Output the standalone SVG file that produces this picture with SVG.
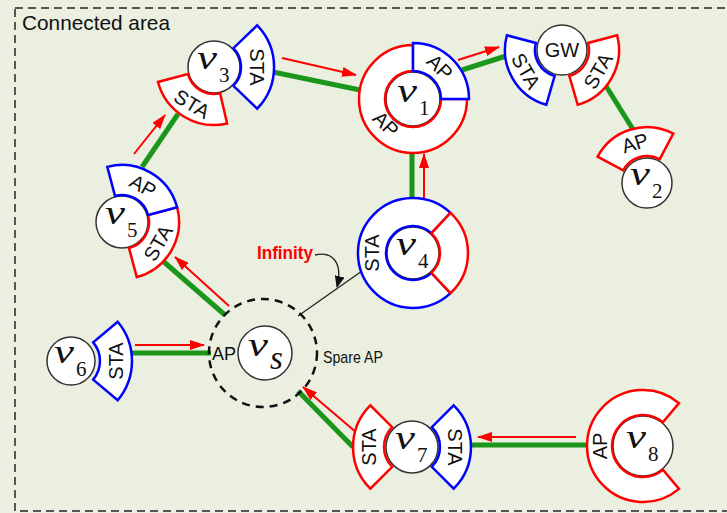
<svg xmlns="http://www.w3.org/2000/svg" width="727" height="513" viewBox="0 0 727 513">
  <style>
    .bg { fill: #EAEFE0; }
    .area { fill: none; stroke: #555; stroke-width: 2; stroke-dasharray: 8 5; }
    .node { fill: #fff; stroke: #333; stroke-width: 1.5; }
    .sr { fill: #fff; stroke: #f00; stroke-width: 2.5; stroke-linejoin: miter; }
    .sb { fill: #fff; stroke: #00f; stroke-width: 2.5; stroke-linejoin: miter; }
    .lbl { font-family: "Liberation Sans", Arial, sans-serif; font-size: 20px; fill: #111; text-anchor: middle; dominant-baseline: central; }
    .vv { font-family: "Liberation Serif", "Times New Roman", serif; font-style: italic; font-size: 33px; fill: #111; }
    .sub { font-family: "Liberation Serif", "Times New Roman", serif; font-size: 21px; fill: #111; }
    .link { stroke: #1a961a; stroke-width: 5; fill: none; }
    .flow { stroke: #f00; stroke-width: 2; fill: none; marker-end: url(#redHead); }
    .note { stroke: #222; stroke-width: 1.3; fill: none; }
  </style>
  <defs>
    <marker id="redHead" markerUnits="userSpaceOnUse" markerWidth="15" markerHeight="10" refX="14" refY="5" orient="auto">
      <path d="M0,0 L15,5 L0,10 Z" fill="#f00"/>
    </marker>
    <marker id="blackHead" markerUnits="userSpaceOnUse" markerWidth="12" markerHeight="10" refX="11" refY="5" orient="auto">
      <path d="M0,0 L12,5 L0,10 Z" fill="#111"/>
    </marker>
  </defs>

  <rect class="bg" x="0" y="0" width="727" height="513"/>
  <rect class="area" x="15" y="8" width="730" height="503"/>
  <text x="22" y="30" font-family="Liberation Sans, Arial, sans-serif" font-size="21" fill="#111" textLength="148" lengthAdjust="spacingAndGlyphs">Connected area</text>

  <!-- links: green = association, red = traffic direction -->
  <g id="connectors">
    <line class="link" x1="273" y1="72" x2="360" y2="90"/>
    <line class="flow" x1="282" y1="58" x2="356" y2="75"/>

    <line class="link" x1="462" y1="70" x2="506" y2="56"/>
    <line class="flow" x1="458" y1="60" x2="499" y2="47"/>

    <line class="link" x1="606" y1="86" x2="634" y2="131"/>

    <line class="link" x1="412" y1="199" x2="412" y2="152"/>
    <line class="flow" x1="424" y1="199" x2="424" y2="154"/>

    <line class="link" x1="142" y1="167" x2="178" y2="114"/>
    <line class="flow" x1="134" y1="154" x2="165" y2="115"/>

    <line class="link" x1="225" y1="315" x2="164" y2="262"/>
    <line class="flow" x1="229" y1="306" x2="175" y2="257"/>

    <line class="link" x1="130" y1="353" x2="211" y2="353"/>
    <line class="flow" x1="135" y1="345" x2="204" y2="345"/>

    <line class="link" x1="353" y1="447" x2="298" y2="391"/>
    <line class="flow" x1="357" y1="433" x2="303" y2="387"/>

    <line class="link" x1="470" y1="445" x2="588" y2="445"/>
    <line class="flow" x1="576" y1="437" x2="478" y2="437"/>

    <!-- infinity annotation -->
    <line class="note" x1="298" y1="316" x2="362" y2="271"/>
    <path class="note" d="M315,255 C333,251 343,263 337,287" marker-end="url(#blackHead)"/>
    <text x="257" y="259" font-family="Liberation Sans, Arial, sans-serif" font-weight="bold" font-size="18" fill="#f00" textLength="56" lengthAdjust="spacingAndGlyphs">Infinity</text>
  </g>

  <g id="v3">
    <circle class="node" cx="214" cy="67" r="26"/>
    <path class="sb" d="M257.2,25.3 A60,60 0 0 1 257.2,108.7 L233.4,85.8 A27,27 0 0 0 233.4,48.2 Z"/>
    <path class="sr" d="M227.1,123.5 A58,58 0 0 1 158.0,82.0 L187.9,74.0 A27,27 0 0 0 220.1,93.3 Z"/>
    <text class="lbl" transform="translate(257,67) rotate(90)">STA</text>
    <text class="lbl" transform="translate(192,104) rotate(31)">STA</text>
    <text class="vv" x="197" y="69" textLength="20" lengthAdjust="spacingAndGlyphs">v</text>
    <text class="sub" x="219" y="82">3</text>
  </g>

  <g id="v1">
    <circle class="node" cx="413" cy="99" r="27"/>
    <path class="sr" d="M467,99 A54,54 0 1 1 413,45 L413,71 A28,28 0 1 0 441,99 Z"/>
    <path class="sb" d="M413,43 A56,56 0 0 1 469,99 L441,99 A28,28 0 0 0 413,71 Z"/>
    <text class="lbl" transform="translate(440,67) rotate(45)">AP</text>
    <text class="lbl" transform="translate(386,124) rotate(45)">AP</text>
    <text class="vv" x="397" y="102" textLength="20" lengthAdjust="spacingAndGlyphs">v</text>
    <text class="sub" x="419" y="115">1</text>
  </g>

  <g id="gw">
    <circle class="node" cx="562" cy="50" r="25"/>
    <path class="sb" d="M546.3,104.8 A57,57 0 0 1 506.9,35.3 L535.9,43.0 A27,27 0 0 0 554.6,76.0 Z"/>
    <path class="sr" d="M617.1,35.3 A57,57 0 0 1 577.7,104.8 L569.4,76.0 A27,27 0 0 0 588.1,43.0 Z"/>
    <text class="lbl" transform="translate(526,71) rotate(60)">STA</text>
    <text class="lbl" transform="translate(598,71) rotate(-60)">STA</text>
    <text class="lbl" x="562" y="50">GW</text>
  </g>

  <g id="v2">
    <circle class="node" cx="647" cy="183" r="25"/>
    <path class="sr" d="M597.6,156.7 A56,56 0 0 1 673.3,133.6 L659.7,159.2 A27,27 0 0 0 623.2,170.3 Z"/>
    <text class="lbl" transform="translate(635,143) rotate(-17)">AP</text>
    <text class="vv" x="630" y="185" textLength="20" lengthAdjust="spacingAndGlyphs">v</text>
    <text class="sub" x="652" y="198">2</text>
  </g>

  <g id="v5">
    <circle class="node" cx="122" cy="222" r="26"/>
    <path class="sr" d="M177.1,207.3 A57,57 0 0 1 136.8,277.1 L129.0,248.1 A27,27 0 0 0 148.1,215.0 Z"/>
    <path class="sb" d="M107.3,166.9 A57,57 0 0 1 177.1,207.3 L148.1,215.0 A27,27 0 0 0 115.0,195.9 Z"/>
    <text class="lbl" transform="translate(143,186) rotate(30)">AP</text>
    <text class="lbl" transform="translate(158,243) rotate(-60)">STA</text>
    <text class="vv" x="105" y="224" textLength="20" lengthAdjust="spacingAndGlyphs">v</text>
    <text class="sub" x="127" y="237">5</text>
  </g>

  <g id="v4">
    <circle class="node" cx="413" cy="253" r="26"/>
    <path class="sb" d="M450.5,293.2 A55,55 0 1 1 450.5,212.8 L431.4,233.3 A27,27 0 1 0 431.4,272.8 Z"/>
    <path class="sr" d="M450.5,212.8 A55,55 0 0 1 450.5,293.2 L431.4,272.8 A27,27 0 0 0 431.4,233.3 Z"/>
    <text class="lbl" transform="translate(372,253) rotate(-90)">STA</text>
    <text class="vv" x="396" y="255" textLength="20" lengthAdjust="spacingAndGlyphs">v</text>
    <text class="sub" x="418" y="268">4</text>
  </g>

  <g id="vs">
    <circle cx="263" cy="353" r="54" fill="none" stroke="#111" stroke-width="2.5" stroke-dasharray="8 6"/>
    <circle class="node" cx="265" cy="353" r="27"/>
    <text x="212" y="360" font-family="Liberation Sans, Arial, sans-serif" font-size="18" fill="#111">AP</text>
    <text class="vv" x="248" y="356" textLength="20" lengthAdjust="spacingAndGlyphs">v</text>
    <text class="vv" x="270" y="369" font-size="21">s</text>
    <text x="323" y="363" font-family="Liberation Sans, Arial, sans-serif" font-size="17" fill="#111" textLength="60" lengthAdjust="spacingAndGlyphs">Spare AP</text>
  </g>

  <g id="v6">
    <circle class="node" cx="71" cy="361" r="24"/>
    <path class="sb" d="M117.7,321.8 A61,61 0 0 1 117.7,400.2 L93.2,379.6 A29,29 0 0 0 93.2,342.4 Z"/>
    <text class="lbl" transform="translate(116,361) rotate(-90)">STA</text>
    <text class="vv" x="54" y="363" textLength="20" lengthAdjust="spacingAndGlyphs">v</text>
    <text class="sub" x="76" y="376">6</text>
  </g>

  <g id="v7">
    <circle class="node" cx="412" cy="447" r="26"/>
    <path class="sr" d="M370.3,488.7 A59,59 0 0 1 370.3,405.3 L392.2,427.2 A28,28 0 0 0 392.2,466.8 Z"/>
    <path class="sb" d="M453.7,405.3 A59,59 0 0 1 453.7,488.7 L431.8,466.8 A28,28 0 0 0 431.8,427.2 Z"/>
    <text class="lbl" transform="translate(369,447) rotate(-90)">STA</text>
    <text class="lbl" transform="translate(455,447) rotate(90)">STA</text>
    <text class="vv" x="395" y="449" textLength="20" lengthAdjust="spacingAndGlyphs">v</text>
    <text class="sub" x="417" y="462">7</text>
  </g>

  <g id="v8">
    <circle class="node" cx="643" cy="446" r="30"/>
    <path class="sr" d="M679,488.9 A56,56 0 1 1 679,403.1 L662.9,422.3 A31,31 0 1 0 662.9,469.8 Z"/>
    <text class="lbl" transform="translate(600,446) rotate(-90)">AP</text>
    <text class="vv" x="626" y="448" textLength="20" lengthAdjust="spacingAndGlyphs">v</text>
    <text class="sub" x="648" y="461">8</text>
  </g>
</svg>
